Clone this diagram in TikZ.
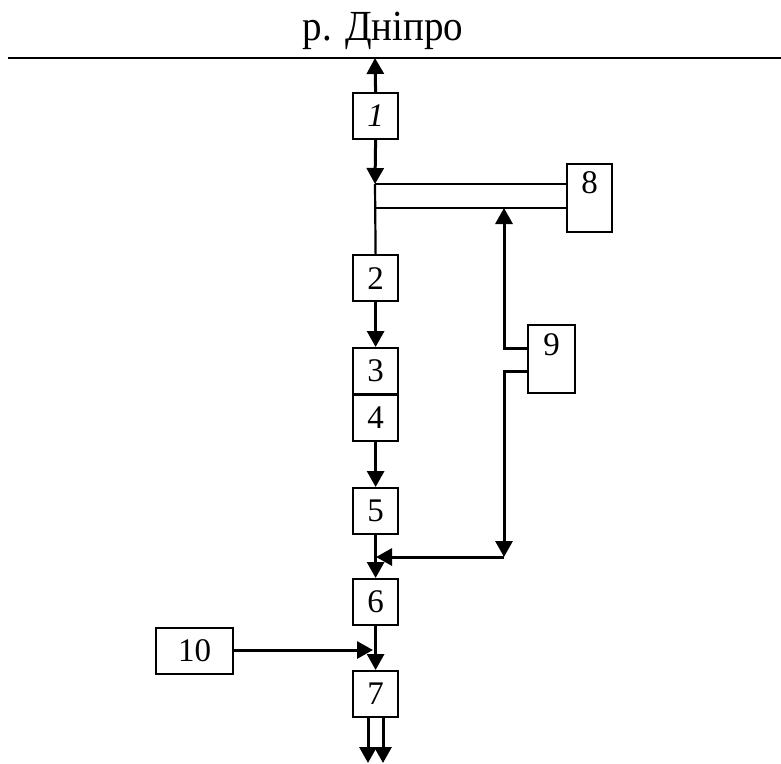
\documentclass[tikz,border=0pt]{standalone}
\usepackage{fontspec}
\setmainfont{Liberation Serif}
\usetikzlibrary{arrows.meta}
\begin{document}
\begin{tikzpicture}[x=1pt,y=-1pt,
  blk/.style={draw,line width=2.2pt,minimum width=45pt,minimum height=46pt,inner sep=0pt,anchor=north west,font=\fontsize{33}{34}\selectfont},
  conn/.style={line width=3pt},
  thin/.style={line width=2.2pt},
  arr/.style={conn,-{Triangle[length=16pt,width=17pt]}}]
\useasboundingbox (0,0) rectangle (781,763);
\node[anchor=base,inner sep=0pt,yscale=1.1] (title) at (383,40) {\fontsize{39}{42}\selectfont р. Дніпро};
\coordinate (rl) at (8,58);
\coordinate (rr) at (781,58);
\draw[thin] (rl) -- (rr);
\coordinate (riv) at (375,58);
% boxes
\node[blk] (b1) at (352,92) {\itshape 1};
\node[blk,minimum height=68pt] (b8) at (566,163) {};
\node[font=\fontsize{33}{34}\selectfont] (l8) at ([yshift=-20pt]b8.north) {8};
\node[blk] (b2) at (352,254) {2};
\node[blk] (b3) at (352,347) {3};
\node[blk] (b4) at (352,394) {4};
\node[blk] (b5) at (352,487) {5};
\node[blk] (b6) at (352,578) {6};
\node[blk] (b7) at (352,670) {7};
\node[blk,minimum width=77pt] (b10) at (155,627) {10};
\node[blk,minimum width=47pt,minimum height=68pt] (b9) at (527,324) {};
\node[font=\fontsize{33}{34}\selectfont] (l9) at ([yshift=-21pt]b9.north) {9};
% coordinates
\coordinate (j1) at (375,184);
\coordinate (j8a) at (566,184);
\coordinate (j1b) at (375,208);
\coordinate (j8b) at (566,208);
\coordinate (c9a) at (504,348);
\coordinate (c9b) at (504,371);
\coordinate (t9a) at (504,208);
\coordinate (d9) at (504,557);
\coordinate (m56) at (375,557);
\coordinate (m67) at (375,650);
\coordinate (o1) at (368,763);
\coordinate (o2) at (383,763);
% connectors
\draw[arr] (b1.north) -- (riv);
\draw[arr] (b1.south) -- (j1);
\draw[thin] (j1) -- (j8a);
\draw[thin] (j1b) -- (j8b);
\draw[thin] (j1) -- (b2.north);
\draw[arr] (b2.south) -- (b3.north);
\draw[arr] (b4.south) -- (b5.north);
\draw[arr] (b5.south) -- (b6.north);
\draw[arr] (b6.south) -- (b7.north);
\draw[arr] (b10.east |- m67) -- ([xshift=-2pt]m67);
\draw[arr] (b9.west |- c9a) -- (c9a) -- (t9a);
\draw[arr] (b9.west |- c9b) -- (c9b) -- (d9);
\draw[arr] (d9) -- ([xshift=1pt]m56);
\draw[arr] (b7.south -| o1) -- (o1);
\draw[arr] (b7.south -| o2) -- (o2);
\end{tikzpicture}
\end{document}
